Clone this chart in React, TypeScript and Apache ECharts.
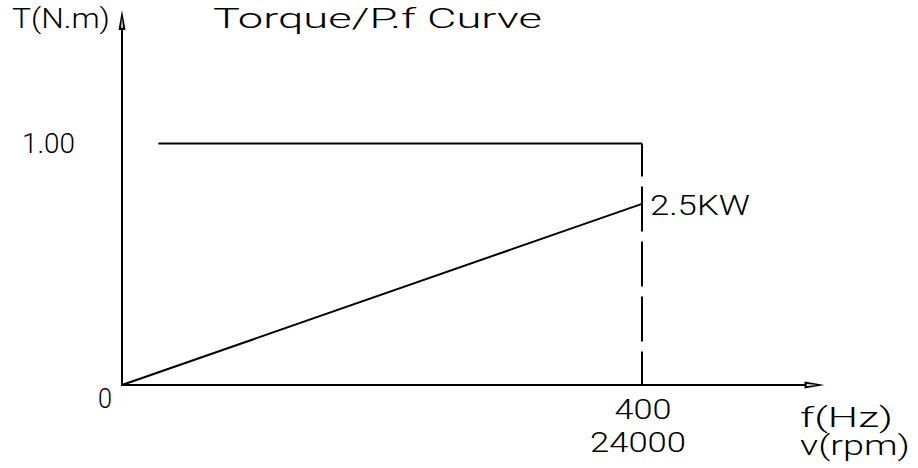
import React, { useEffect, useRef } from "react";
import * as echarts from "echarts";

// ---- data ----
const torqueCurve: [number, number][] = [[28, 1], [400, 1]];
const limitLine: [number, number][] = [[400, 1], [400, 0]];
const powerCurve: [number, number][] = [[0, 0], [400, 0.75]];
const xMax = 525;
const yMax = 1.47;
const yTickValues = [0, 1];
const yTickLabels = ["0", "1.00"];
const xTickValue = 400;
const xTickLabels = ["400", "24000"];
const xAxisNames = ["f(Hz)", "v(rpm)"];
const yAxisName = "T(N.m)";
const titleText = "Torque/P.f Curve";
const powerLabel = "2.5KW";
const powerPoint = powerCurve[1];

const ARROW = "path://M3.5,0L7,20L0,20Z M3.5,7.5L2.6,17.8L4.4,17.8Z";
const FONT_SIZE = 28;
const FONT_FAMILY = "Roboto";
const FONT_WEIGHT = 300;

function measure(text: string): number {
  const c = document.createElement("canvas").getContext("2d");
  if (!c) return text.length * FONT_SIZE * 0.55;
  c.font = `${FONT_WEIGHT} ${FONT_SIZE}px ${FONT_FAMILY}`;
  return c.measureText(text).width;
}

export default function App() {
  const ref = useRef<HTMLDivElement>(null);
  useEffect(() => {
    if (!ref.current) return;
    const chart = echarts.init(ref.current, null, { renderer: "svg" });
    const lineStyle = { color: "#000", width: 2 };
    const axisLine = {
      show: true,
      lineStyle: { color: "#000", width: 2 },
      symbol: ["none", ARROW],
      symbolSize: [7, 20],
      symbolOffset: [0, 10],
    };
    chart.setOption({
      animation: false,
      backgroundColor: "#fff",
      grid: { left: 122, right: 918 - (122 + xMax * 1.3), top: 30, bottom: 83, containLabel: false },
      xAxis: {
        type: "value",
        min: 0,
        max: xMax,
        axisLine,
        axisTick: { show: false },
        axisLabel: { show: false },
        splitLine: { show: false },
      },
      yAxis: {
        type: "value",
        min: 0,
        max: yMax,
        axisLine,
        axisTick: { show: false },
        axisLabel: { show: false },
        splitLine: { show: false },
      },
      series: [
        { type: "line", data: torqueCurve, symbol: "none", lineStyle, silent: true },
        {
          type: "line",
          data: limitLine,
          symbol: "none",
          lineStyle: { color: "#000", width: 2, type: [45, 10], dashOffset: 12 },
          silent: true,
        },
        { type: "line", data: powerCurve, symbol: "none", lineStyle, silent: true },
      ],
    });

    const p = (x: number, y: number) => chart.convertToPixel({ gridIndex: 0 }, [x, y]) as number[];
    const o = p(0, yTickValues[0]);
    const one = p(0, yTickValues[1]);
    const top = p(0, yMax);
    const tick = p(xTickValue, 0);
    const pw = p(powerPoint[0], powerPoint[1]);
    const txt = (text: string, x: number, y: number, align: string, width: number) => ({
      type: "text",
      x,
      y,
      scaleX: width / measure(text),
      silent: true,
      style: {
        text,
        fill: "#000",
        fontFamily: FONT_FAMILY,
        fontWeight: FONT_WEIGHT,
        fontSize: FONT_SIZE,
        textAlign: align,
        textVerticalAlign: "middle",
      },
    });
    chart.setOption({
      graphic: [
        txt(titleText, o[0] + 91, top[1] - 12, "left", 329),
        txt(yAxisName, o[0] - 12, top[1] - 12, "right", 98),
        txt(yTickLabels[1], o[0] - 47, one[1], "right", 53),
        txt(yTickLabels[0], o[0] - 10, o[1] + 14, "right", 14),
        txt(xTickLabels[0], tick[0] + 1, o[1] + 25, "center", 57),
        txt(xTickLabels[1], tick[0] - 4, o[1] + 58, "center", 96),
        txt(xAxisNames[0], tick[0] + 158, o[1] + 32, "left", 93),
        txt(xAxisNames[1], tick[0] + 158, o[1] + 60, "left", 110),
        txt(powerLabel, pw[0] + 8, pw[1] + 2, "left", 100),
      ],
    });
    return () => chart.dispose();
  }, []);
  return (
    <div
      ref={ref}
      style={{ position: "fixed", left: 0, top: 0, width: 918, height: 468, background: "#fff" }}
    />
  );
}
